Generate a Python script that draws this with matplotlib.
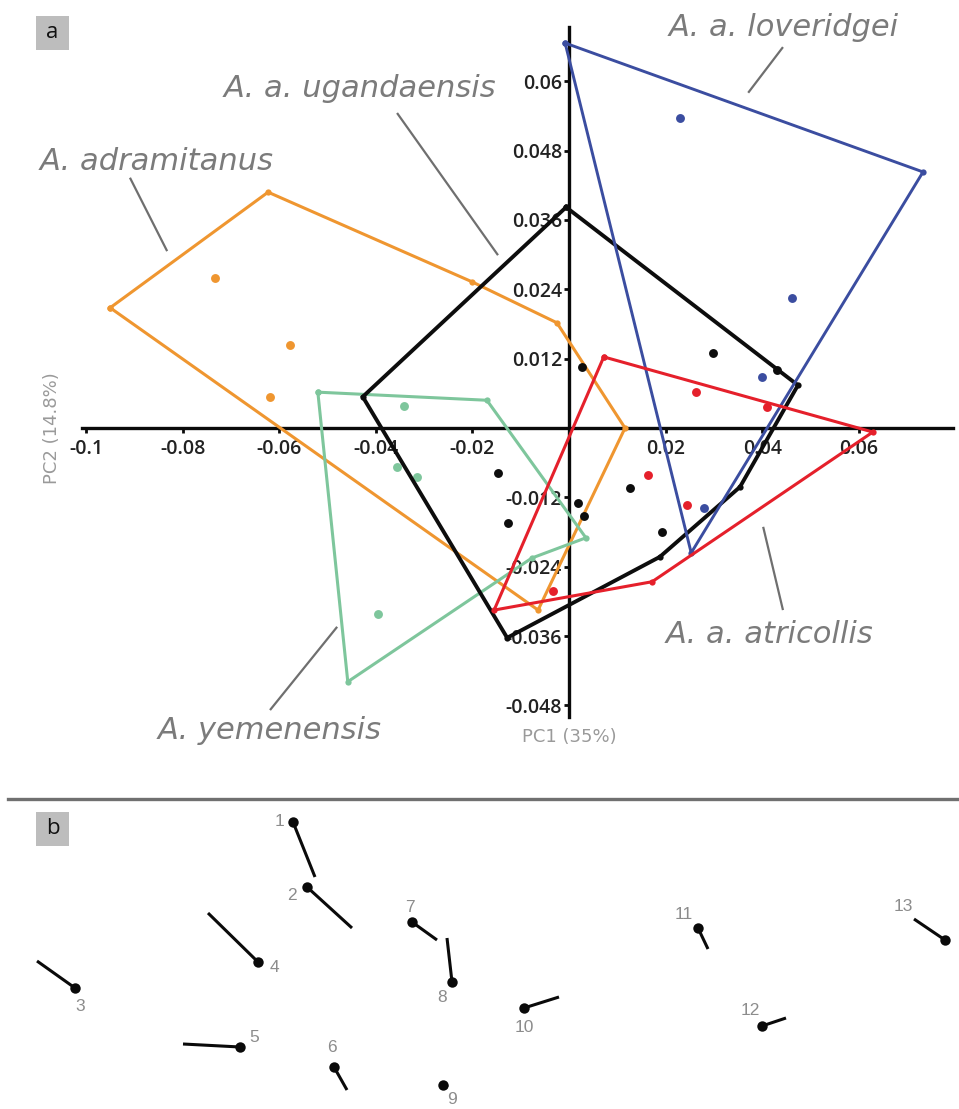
import matplotlib
matplotlib.use("Agg")
import matplotlib.pyplot as plt
from matplotlib.lines import Line2D
from matplotlib.patches import Rectangle

plt.rcParams['font.family'] = ['Open Sans', 'DejaVu Sans']

# ---------------- Panel a: PCA scores (PC1, PC2) ----------------
# outline specimens (in drawing order) and interior specimens per taxon
adramitanus_out_pc1 = [-0.0950, -0.0623, -0.0201, -0.0025, 0.0116, -0.0064]
adramitanus_out_pc2 = [0.0208, 0.0408, 0.0253, 0.0182, 0.0000, -0.0315]
adramitanus_in_pc1 = [-0.0733, -0.0578, -0.0619]
adramitanus_in_pc2 = [0.0260, 0.0144, 0.0054]

yemenensis_out_pc1 = [-0.0520, -0.0170, 0.0035, -0.0077, -0.0458]
yemenensis_out_pc2 = [0.0062, 0.0048, -0.0190, -0.0225, -0.0439]
yemenensis_in_pc1 = [-0.0342, -0.0356, -0.0315, -0.0395]
yemenensis_in_pc2 = [0.0038, -0.0067, -0.0085, -0.0322]

ugandaensis_out_pc1 = [-0.0006, -0.0427, -0.0128, 0.0188, 0.0354, 0.0474]
ugandaensis_out_pc2 = [0.0382, 0.0054, -0.0363, -0.0223, -0.0102, 0.0074]
ugandaensis_in_pc1 = [0.0027, 0.0298, 0.0431, -0.0147, -0.0126, 0.0019, 0.0031, 0.0126, 0.0193]
ugandaensis_in_pc2 = [0.0106, 0.0130, 0.0100, -0.0078, -0.0164, -0.0130, -0.0152, -0.0104, -0.0180]

loveridgei_out_pc1 = [-0.0008, 0.0733, 0.0253]
loveridgei_out_pc2 = [0.0666, 0.0443, -0.0216]
loveridgei_in_pc1 = [0.0230, 0.0462, 0.0400, 0.0280]
loveridgei_in_pc2 = [0.0536, 0.0225, 0.0088, -0.0138]

atricollis_out_pc1 = [0.0072, 0.0629, 0.0172, -0.0155]
atricollis_out_pc2 = [0.0123, -0.0007, -0.0266, -0.0315]
atricollis_in_pc1 = [0.0263, 0.0410, 0.0164, 0.0244, -0.0033]
atricollis_in_pc2 = [0.0062, 0.0036, -0.0081, -0.0133, -0.0282]

x_ticks = [-0.1, -0.08, -0.06, -0.04, -0.02, 0.02, 0.04, 0.06]
x_tick_labels = ['-0.1', '-0.08', '-0.06', '-0.04', '-0.02', '0.02', '0.04', '0.06']
y_ticks = [0.06, 0.048, 0.036, 0.024, 0.012, -0.012, -0.024, -0.036, -0.048]
y_tick_labels = ['0.06', '0.048', '0.036', '0.024', '0.012', '-0.012', '-0.024', '-0.036', '-0.048']

# ---------------- Panel b: landmark shifts ----------------
landmark_ids = ['1', '2', '3', '4', '5', '6', '7', '8', '9', '10', '11', '12', '13']
landmark_x = [293, 307, 75, 258, 240, 334, 412, 452, 443, 524, 698, 762, 945]
landmark_y = [287, 222, 121, 147, 62, 42, 187, 127, 24, 101, 181, 83, 169]
shift_dx = [22, 45, -38, -50, -57, 13, 25, -5, 5, 35, 10, 24, -31]
shift_dy = [-55, -41, 27, 49, 3, -23, -18, 44, -2, 11, -21, 8, 21]

W, H = 959, 1109
fig = plt.figure(figsize=(W / 100, H / 100), dpi=100)

# ---- panel a ----
ax = fig.add_axes([0, 349 / H, 1, 760 / H])
ax.set_xlim(-569 / 4830, (W - 569) / 4830)
ax.set_ylim((428 - 760) / 5780, 428 / 5780)

groups = [
    (adramitanus_out_pc1, adramitanus_out_pc2, adramitanus_in_pc1, adramitanus_in_pc2, '#EF9630', 2.2, 3),
    (yemenensis_out_pc1, yemenensis_out_pc2, yemenensis_in_pc1, yemenensis_in_pc2, '#7EC69C', 2.2, 4),
    (ugandaensis_out_pc1, ugandaensis_out_pc2, ugandaensis_in_pc1, ugandaensis_in_pc2, '#0d0d0d', 2.8, 5),
    (loveridgei_out_pc1, loveridgei_out_pc2, loveridgei_in_pc1, loveridgei_in_pc2, '#3B4DA0', 2.1, 6),
    (atricollis_out_pc1, atricollis_out_pc2, atricollis_in_pc1, atricollis_in_pc2, '#E5202B', 2.2, 7),
]
for ox, oy, ix, iy, col, lw, z in groups:
    ax.plot(list(ox) + [ox[0]], list(oy) + [oy[0]], color=col, lw=lw,
            marker='o', ms=4.5, mew=0, zorder=z, solid_joinstyle='miter')
    ax.plot(ix, iy, ls='none', marker='o', ms=6.4, mew=0, color=col, zorder=z)

for side in ('top', 'right'):
    ax.spines[side].set_visible(False)
ax.spines['left'].set_position(('data', 0))
ax.spines['bottom'].set_position(('data', 0))
ax.spines['left'].set_bounds(-0.0500, 0.0694)
ax.spines['bottom'].set_bounds(-0.1008, 0.0795)
for side in ('left', 'bottom'):
    ax.spines[side].set_linewidth(2.4)
    ax.spines[side].set_color('#0a0a0a')
    ax.spines[side].set_zorder(2.5)

ax.set_xticks(x_ticks)
ax.set_xticklabels(x_tick_labels)
ax.set_yticks(y_ticks)
ax.set_yticklabels(y_tick_labels)
ax.tick_params(axis='both', direction='out', length=3.6, width=2.0, color='#0a0a0a',
               labelsize=14, labelcolor='#222222', pad=1.5)
ax.tick_params(axis='x', pad=4.5)
for lab in ax.get_xticklabels() + ax.get_yticklabels():
    lab.set_fontweight('semibold')

axis_font = ['DejaVu Sans']
ax.text(0, -0.0535, 'PC1 (35%)', ha='center', va='center', fontsize=13,
        color='#9a9a9a', family=axis_font)
ax.text(-0.1070, 0, 'PC2 (14.8%)', ha='center', va='center', rotation=90,
        fontsize=13, color='#9a9a9a', family=axis_font)

# taxon names and leader lines
label_col = '#7b7b7b'
taxa_labels = [
    ('A. adramitanus', -0.0853, 0.0446, (-0.0909, -0.0832), (0.0433, 0.0306)),
    ('A. a. ugandaensis', -0.0433, 0.0573, (-0.0356, -0.0147), (0.0545, 0.0299)),
    ('A. a. loveridgei', 0.0445, 0.0678, (0.0443, 0.0371), (0.0659, 0.0580)),
    ('A. yemenensis', -0.0619, -0.0538, (-0.0480, -0.0619), (-0.0344, -0.0488)),
    ('A. a. atricollis', 0.0416, -0.0372, (0.0402, 0.0443), (-0.0171, -0.0315)),
]
for name, tx, ty, lx, ly in taxa_labels:
    ax.text(tx, ty, name, ha='center', va='baseline', fontsize=22, style='italic',
            color=label_col, family=['DejaVu Sans'])
    ax.plot(lx, ly, color='#6f6f6f', lw=1.6, zorder=8, solid_capstyle='butt')

# panel tags
for tag, top in (('a', 16), ('b', 812)):
    fig.add_artist(Rectangle((36 / W, 1 - (top + 34) / H), 33 / W, 34 / H,
                             transform=fig.transFigure, facecolor='#bdbdbd',
                             edgecolor='none'))
    fig.text(52.5 / W, 1 - (top + 17) / H, tag, ha='center', va='center',
             fontsize=16, color='#111111')

# separator
fig.add_artist(Line2D([8 / W, 1], [1 - 799 / H, 1 - 799 / H], transform=fig.transFigure,
                      color='#707070', lw=2.4))

# ---- panel b ----
axb = fig.add_axes([0, 0, 1, 309 / H])
axb.set_xlim(0, W)
axb.set_ylim(0, 309)
axb.axis('off')

label_offsets = [(-9.4, 0), (-10.8, -5.8), (3.6, -13), (11.5, -4.3), (10, 7.2), (-1.4, 14.4),
                 (-1.4, 10.8), (-7.2, -11.5), (6.5, -10.8), (0, -13.7), (-10, 10),
                 (-8.6, 11.5), (-30, 23.8)]
for i, lid in enumerate(landmark_ids):
    x0, y0 = landmark_x[i], landmark_y[i]
    axb.plot([x0, x0 + shift_dx[i]], [y0, y0 + shift_dy[i]], color='#0a0a0a', lw=2.2,
             solid_capstyle='butt')
    axb.plot([x0], [y0], 'o', color='#0a0a0a', ms=7.5, mew=0)
    axb.annotate(lid, (x0, y0), xytext=label_offsets[i], textcoords='offset points',
                 ha='center', va='center', fontsize=12.5, color='#8c8c8c',
                 family=['Liberation Sans', 'DejaVu Sans'])

fig.savefig('out.png', dpi=100)
